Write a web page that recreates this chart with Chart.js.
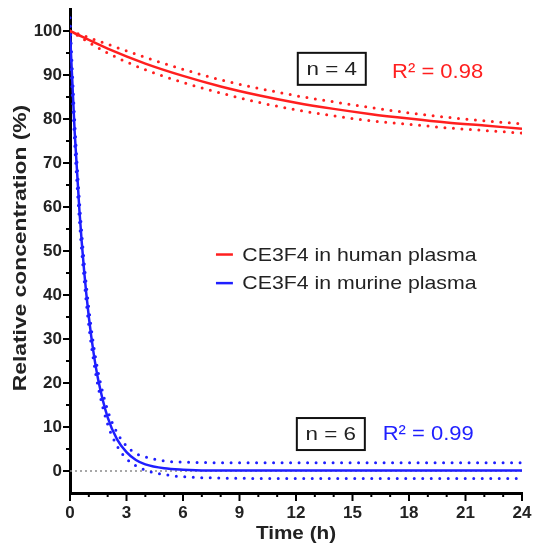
<!DOCTYPE html>
<html>
<head>
<meta charset="utf-8">
<script src="https://cdn.jsdelivr.net/npm/chart.js@4/dist/chart.umd.min.js"></script>
<style>
  html, body { margin: 0; padding: 0; background: #fff; }
  #wrap { width: 535px; height: 546px; }
</style>
</head>
<body>
<div id="wrap"><canvas id="chart"></canvas></div>
<script>
// values
const humanTimes = [0, 2, 4, 6, 8, 10, 12, 14, 16, 18, 20, 22, 24];
const humanFit = [100, 96.0, 92.6, 89.8, 87.4, 85.4, 83.7, 82.3, 81.1, 80.1, 79.2, 78.5, 77.8];
const humanUpper = [100, 97.0, 94.0, 91.3, 88.9, 87.0, 85.3, 83.9, 82.6, 81.4, 80.4, 79.6, 78.9];
const humanLower = [100, 95.0, 91.2, 88.3, 85.9, 83.8, 82.1, 80.7, 79.6, 78.8, 78.0, 77.4, 76.8];

const murineTimes = [0, 0.25, 0.5, 0.75, 1, 1.25, 1.5, 2, 2.5, 3, 3.5, 4, 5, 6, 8, 12, 16, 20, 24];
const murineFit = [100, 76.9, 59.2, 45.5, 35.0, 26.9, 20.7, 12.2, 7.2, 4.3, 2.5, 1.5, 0.6, 0.3, 0.1, 0.1, 0.1, 0.1, 0.1];
const murineUpper = [103, 79.5, 61.5, 47.5, 37.0, 28.7, 22.4, 13.8, 8.7, 5.7, 4.0, 3.2, 2.3, 2.0, 1.9, 1.9, 1.9, 1.9, 1.9];
const murineLower = [97, 74.3, 56.9, 43.5, 33.0, 25.1, 19.0, 10.6, 5.7, 2.8, 1.2, 0.2, -0.8, -1.3, -1.6, -1.7, -1.7, -1.7, -1.7];

const xTicks = [0, 3, 6, 9, 12, 15, 18, 21, 24];
const yTicks = [0, 10, 20, 30, 40, 50, 60, 70, 80, 90, 100];

const seriesLabels = ["CE3F4 in human plasma", "CE3F4 in murine plasma"];
const sampleSizes = ["n = 4", "n = 6"];
const rSquared = ["R\u00B2 = 0.98", "R\u00B2 = 0.99"];
const xTitle = "Time (h)";
const yTitle = "Relative concentration (%)";

const RED = "#ff1f1f";
const BLUE = "#1f1fff";
const FONT = "'Liberation Sans', Arial, sans-serif";

function pts(xs, ys) {
  return xs.map((x, i) => ({ x: x, y: ys[i] }));
}

function solid(label, xs, ys, color) {
  return {
    label: label,
    data: pts(xs, ys),
    borderColor: color,
    borderWidth: 2.5,
    pointRadius: 0,
    cubicInterpolationMode: "monotone",
    fill: false,
  };
}

function dotted(xs, ys, color) {
  return {
    label: "",
    data: pts(xs, ys),
    borderColor: color,
    borderWidth: 3,
    borderDash: [0, 8.5],
    borderCapStyle: "round",
    pointRadius: 0,
    cubicInterpolationMode: "monotone",
    fill: false,
  };
}

// text is a bit wide in the original, so squeeze it out horizontally
function wideText(ctx, txt, x, y, font, color, align, stretch) {
  ctx.save();
  ctx.font = font;
  ctx.fillStyle = color;
  ctx.textBaseline = "middle";
  ctx.textAlign = "left";
  const w = ctx.measureText(txt).width * stretch;
  let left = x;
  if (align === "center") left = x - w / 2;
  ctx.translate(left, y);
  ctx.scale(stretch, 1);
  ctx.fillText(txt, 0, 0);
  ctx.restore();
}

// ticks, zero line, axis titles, legend and text boxes
const decor = {
  id: "decor",
  beforeDatasetsDraw(chart) {
    const { ctx, scales } = chart;
    const y0 = scales.y.getPixelForValue(0);
    ctx.save();
    ctx.strokeStyle = "#8a8a8a";
    ctx.lineWidth = 1.5;
    ctx.setLineDash([2, 3]);
    ctx.beginPath();
    ctx.moveTo(scales.x.getPixelForValue(0), y0);
    ctx.lineTo(scales.x.getPixelForValue(24), y0);
    ctx.stroke();
    ctx.restore();
  },
  afterDraw(chart) {
    const { ctx, scales, chartArea } = chart;
    const sx = scales.x, sy = scales.y;
    ctx.save();
    ctx.strokeStyle = "#000";
    ctx.lineWidth = 2;
    // x ticks (every hour, longer at labelled ones)
    for (let v = 0; v <= 24; v++) {
      const px = sx.getPixelForValue(v);
      const len = xTicks.includes(v) ? 8 : 4;
      ctx.beginPath();
      ctx.moveTo(px, chartArea.bottom);
      ctx.lineTo(px, chartArea.bottom + len);
      ctx.stroke();
    }
    // y ticks (every 5)
    for (let v = 0; v <= 100; v += 5) {
      const py = sy.getPixelForValue(v);
      const len = yTicks.includes(v) ? 7 : 4;
      ctx.beginPath();
      ctx.moveTo(chartArea.left, py);
      ctx.lineTo(chartArea.left - len, py);
      ctx.stroke();
    }

    // axis titles
    const midX = (chartArea.left + chartArea.right) / 2;
    wideText(ctx, xTitle, midX, 534, "bold 18px " + FONT, "#222", "center", 1.15);
    ctx.save();
    ctx.translate(21, 248);
    ctx.rotate(-Math.PI / 2);
    wideText(ctx, yTitle, 0, 0, "bold 19px " + FONT, "#222", "center", 1.2);
    ctx.restore();

    // legend
    const colors = [RED, BLUE];
    const legendRows = [49.2, 42.7];
    seriesLabels.forEach((lab, i) => {
      const py = sy.getPixelForValue(legendRows[i]);
      ctx.strokeStyle = colors[i];
      ctx.lineWidth = 2.5;
      ctx.beginPath();
      ctx.moveTo(sx.getPixelForValue(7.75), py);
      ctx.lineTo(sx.getPixelForValue(8.65), py);
      ctx.stroke();
      wideText(ctx, lab, sx.getPixelForValue(9.15), py + 1, "19px " + FONT, "#222", "left", 1.12);
    });

    // n boxes and R squared
    const boxAt = [[13.9, 91.4], [13.85, 8.4]];
    const rAt = [[17.1, 90.7], [16.6, 8.6]];
    sampleSizes.forEach((txt, i) => {
      const cx = sx.getPixelForValue(boxAt[i][0]);
      const cy = sy.getPixelForValue(boxAt[i][1]);
      wideText(ctx, txt, cx, cy + 1, "19px " + FONT, "#222", "center", 1.18);
      const w = 68, h = 32;
      ctx.strokeStyle = "#111";
      ctx.lineWidth = 2;
      ctx.strokeRect(cx - w / 2, cy - h / 2, w, h);
      wideText(ctx, rSquared[i], sx.getPixelForValue(rAt[i][0]), sy.getPixelForValue(rAt[i][1]) + 1,
        "20px " + FONT, colors[i], "left", 1.1);
    });
    ctx.restore();
  },
};

window.onload = function () {
  const ctx = document.getElementById("chart").getContext("2d");
  new Chart(ctx, {
    type: "line",
    data: {
      datasets: [
        solid(seriesLabels[0], humanTimes, humanFit, RED),
        dotted(humanTimes, humanUpper, RED),
        dotted(humanTimes, humanLower, RED),
        solid(seriesLabels[1], murineTimes, murineFit, BLUE),
        dotted(murineTimes, murineUpper, BLUE),
        dotted(murineTimes, murineLower, BLUE),
      ],
    },
    options: {
      responsive: true,
      maintainAspectRatio: false,
      animation: false,
      layout: { padding: { top: 9, right: 13, left: 0, bottom: 0 } },
      plugins: {
        legend: { display: false },
        tooltip: { enabled: false },
      },
      scales: {
        x: {
          type: "linear",
          min: 0,
          max: 24,
          afterBuildTicks: (s) => { s.ticks = xTicks.map((v) => ({ value: v })); },
          afterFit: (s) => { s.height = 53; s.paddingLeft = 0; s.paddingRight = 0; },
          border: { color: "#000", width: 3 },
          grid: { display: false, drawTicks: false },
          ticks: {
            padding: 10,
            color: "#222",
            font: { family: FONT, size: 17, weight: "bold" },
            maxRotation: 0,
          },
        },
        y: {
          type: "linear",
          min: -5,
          max: 105,
          afterBuildTicks: (s) => { s.ticks = yTicks.map((v) => ({ value: v })); },
          afterFit: (s) => { s.width = 70; s.paddingTop = 0; s.paddingBottom = 0; },
          border: { color: "#000", width: 3 },
          grid: { display: false, drawTicks: false },
          ticks: {
            padding: 8,
            color: "#222",
            font: { family: FONT, size: 17, weight: "bold" },
          },
        },
      },
    },
    plugins: [decor],
  });
};
</script>
</body>
</html>
